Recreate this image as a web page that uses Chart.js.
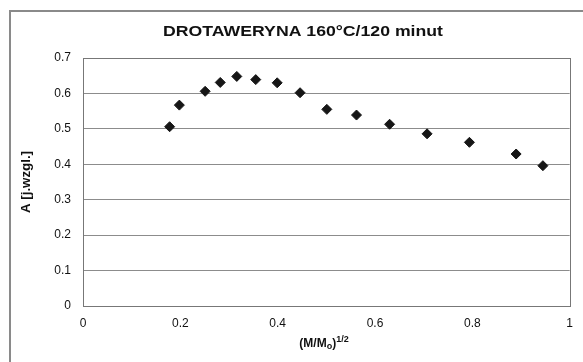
<!DOCTYPE html>
<html>
<head>
<meta charset="utf-8">
<script src="https://cdn.jsdelivr.net/npm/chart.js@4/dist/chart.umd.min.js"></script>
<style>
  html, body { margin: 0; padding: 0; background: #fff; }
  #wrap { width: 583px; height: 362px; }
</style>
</head>
<body>
<div id="wrap"><canvas id="chart" width="583" height="362"></canvas></div>
<script>
// (M/Mo)^1/2 and absorbance
const xValues = [0.178, 0.198, 0.251, 0.282, 0.316, 0.355, 0.399, 0.446, 0.501, 0.562, 0.630, 0.707, 0.794, 0.890, 0.945];
const yValues = [0.506, 0.567, 0.606, 0.631, 0.648, 0.639, 0.630, 0.602, 0.555, 0.539, 0.513, 0.486, 0.462, 0.429, 0.396];

const chartTitle = 'DROTAWERYNA 160°C/120 minut';
const yTitle = 'A [j.wzgl.]';

const FONT = ' "Liberation Sans", Arial, sans-serif';

let points = xValues.map((x, i) => ({ x: x, y: yValues[i] }));

// text drawn stretched to a given length, like in the picture
let stretchText = (ctx, text, font, length) => {
    ctx.font = font;
    let w = ctx.measureText(text).width;
    ctx.scale(length / w, 1);
    ctx.fillText(text, 0, 0);
};

// frame, plot box and texts the library can't lay out the same way
let decor = {
    id: 'decor',
    beforeDraw(chart) {
        let ctx = chart.ctx;
        ctx.save();
        ctx.fillStyle = '#fff';
        ctx.fillRect(0, 0, chart.width, chart.height);
        ctx.strokeStyle = '#8a8a8a';
        ctx.lineWidth = 2;
        ctx.beginPath();
        ctx.moveTo(10, chart.height + 2);
        ctx.lineTo(10, 11);
        ctx.lineTo(chart.width + 2, 11);
        ctx.stroke();
        ctx.restore();
    },
    beforeDatasetsDraw(chart) {
        let ctx = chart.ctx;
        let a = chart.chartArea;
        ctx.save();
        ctx.strokeStyle = '#777';
        ctx.lineWidth = 1;
        ctx.strokeRect(Math.round(a.left) + 0.5, Math.round(a.top) + 0.5, Math.round(a.right - a.left), Math.round(a.bottom - a.top));
        ctx.restore();
    },
    afterDraw(chart) {
        let ctx = chart.ctx;
        ctx.fillStyle = '#111';
        ctx.textBaseline = 'middle';
        ctx.textAlign = 'center';

        ctx.save();
        ctx.translate(303, 32);
        stretchText(ctx, chartTitle, 'bold 15px' + FONT, 280);
        ctx.restore();

        ctx.save();
        ctx.translate(27, 182);
        ctx.rotate(-Math.PI / 2);
        stretchText(ctx, yTitle, 'bold 12px' + FONT, 62);
        ctx.restore();

        // x axis title with sub/superscript
        let parts = [
            { t: '(M/M', f: 'bold 12px', dy: 0 },
            { t: 'o', f: 'bold 9px', dy: 3 },
            { t: ')', f: 'bold 12px', dy: 0 },
            { t: '1/2', f: 'bold 9px', dy: -4 }
        ];
        ctx.save();
        let total = 0;
        parts.forEach(p => { ctx.font = p.f + FONT; p.w = ctx.measureText(p.t).width; total += p.w; });
        let x = 324 - total / 2;
        ctx.textAlign = 'left';
        parts.forEach(p => {
            ctx.font = p.f + FONT;
            ctx.fillText(p.t, x, 344 + p.dy);
            x += p.w;
        });
        ctx.restore();
    }
};

let tickText = value => String(Math.round(value * 10) / 10);

new Chart(document.getElementById('chart').getContext('2d'), {
    type: 'scatter',
    data: {
        datasets: [{
            label: chartTitle,
            data: points,
            pointStyle: 'rectRot',
            pointRadius: 5,
            pointHoverRadius: 5,
            backgroundColor: '#161616',
            borderColor: '#161616',
            borderWidth: 1
        }]
    },
    options: {
        responsive: false,
        animation: false,
        layout: { padding: { top: 58, left: 18, right: 9, bottom: 0 } },
        plugins: {
            legend: { display: false },
            tooltip: { enabled: false },
            title: { display: false }
        },
        scales: {
            x: {
                type: 'linear',
                min: 0,
                max: 1,
                afterFit: s => { s.height = 56; },
                ticks: {
                    stepSize: 0.2,
                    padding: 10,
                    color: '#111',
                    callback: tickText,
                    font: { family: FONT, size: 12 }
                },
                grid: { display: false, drawTicks: false },
                border: { display: true, color: '#777' }
            },
            y: {
                min: 0,
                max: 0.7,
                afterFit: s => { s.width = 65; },
                ticks: {
                    stepSize: 0.1,
                    padding: 12,
                    color: '#111',
                    callback: tickText,
                    font: { family: FONT, size: 12 }
                },
                grid: { color: '#8c8c8c', drawTicks: false },
                border: { display: true, color: '#777' }
            }
        }
    },
    plugins: [decor]
});
</script>
</body>
</html>
